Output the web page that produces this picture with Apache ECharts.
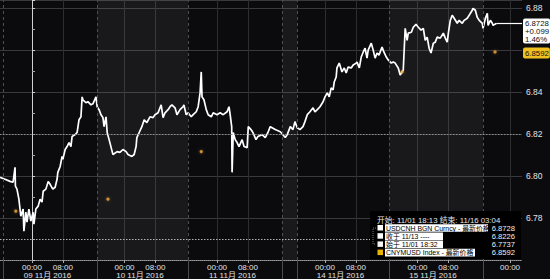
<!DOCTYPE html>
<html><head><meta charset="utf-8">
<script src="https://cdn.jsdelivr.net/npm/echarts@6/dist/echarts.min.js"></script>
<style>html,body{margin:0;padding:0;background:#0b0b0e;}#c{width:550px;height:279px;}</style>
</head><body><div id="c"></div>
<script>
// ---- data (x in trading hours from 09 Nov 00:00, weekend compressed) ----
const cnhHours = [-8.3,-7.0,-5.7,-4.9,-4.4,-4.3,-3.9,-3.4,-2.9,-2.3,
-2.1,-1.6,-1.3,-0.8,-0.3,0.3,0.5,1.0,1.6,2.1,
2.6,2.9,3.6,4.2,4.7,5.4,6.0,6.5,6.7,7.3,
7.8,8.0,8.6,9.1,9.6,10.1,10.4,11.2,11.7,12.2,
12.7,13.0,13.2,14.0,14.5,15.3,15.8,16.6,16.9,17.4,
17.9,18.4,18.7,19.2,19.5,20.0,20.8,21.0,22.1,22.8,
23.6,24.4,24.9,25.9,26.5,27.0,27.2,27.8,28.5,29.1,
29.8,30.6,31.4,31.9,32.7,33.5,34.0,34.5,35.3,35.8,
36.3,37.1,37.6,38.4,39.2,39.4,40.0,40.5,41.3,41.8,
42.6,43.1,43.6,43.9,44.1,44.6,45.2,45.7,46.5,47.0,
48.0,48.8,49.6,50.6,51.1,51.4,51.8,51.9,52.2,52.7,
53.2,53.7,54.5,55.0,55.8,56.1,56.8,57.3,58.1,58.6,
59.7,60.5,61.2,61.8,63.1,64.4,65.7,66.2,67.0,67.7,
68.2,68.8,69.5,70.3,70.8,71.4,72.1,72.9,73.4,74.0,
74.7,75.5,76.0,76.6,77.1,77.6,78.1,78.4,78.9,79.1,
79.7,80.4,81.0,81.5,82.0,82.8,83.3,84.1,84.3,84.9,
85.4,85.9,86.4,86.9,87.2,88.0,88.5,89.0,89.5,90.0,
90.8,91.3,91.9,92.4,93.2,93.7,94.2,95.0,95.5,96.0,
96.3,96.8,97.3,97.6,98.4,98.9,99.6,100.2,100.9,101.5,
102.0,102.5,103.0,103.5,104.1,104.6,105.1,105.9,106.7,107.2,
107.7,108.0,108.5,109.0,109.5,110.3,110.8,111.6,112.1,112.9,
113.4,114.2,114.4,115.0,115.5,116.0,116.8,117.0,117.6,118.1,
118.3,118.9,119.4,119.6,120.4];
const cnhPrices = [6.7994,6.7985,6.7975,6.7971,6.8042,6.7952,6.7938,6.7890,6.7809,6.7843,
6.7737,6.7828,6.7781,6.7843,6.7786,6.7828,6.7771,6.7843,6.7857,6.7890,
6.7876,6.7928,6.7938,6.7975,6.7961,6.7938,6.7947,6.7985,6.8018,6.8046,
6.8094,6.8080,6.8127,6.8141,6.8160,6.8141,6.8189,6.8198,6.8208,6.8269,
6.8283,6.8378,6.8364,6.8350,6.8355,6.8340,6.8345,6.8378,6.8331,6.8317,
6.8293,6.8279,6.8236,6.8283,6.8208,6.8174,6.8117,6.8103,6.8117,6.8113,
6.8127,6.8117,6.8103,6.8094,6.8103,6.8141,6.8184,6.8208,6.8236,6.8269,
6.8255,6.8283,6.8279,6.8293,6.8302,6.8340,6.8279,6.8302,6.8317,6.8331,
6.8340,6.8326,6.8293,6.8317,6.8331,6.8340,6.8293,6.8302,6.8283,6.8293,
6.8307,6.8331,6.8397,6.8497,6.8378,6.8364,6.8317,6.8293,6.8283,6.8302,
6.8293,6.8302,6.8293,6.8307,6.8331,6.8293,6.8236,6.8018,6.8208,6.8174,
6.8160,6.8141,6.8174,6.8141,6.8136,6.8236,6.8222,6.8208,6.8174,6.8189,
6.8198,6.8184,6.8208,6.8236,6.8222,6.8212,6.8184,6.8198,6.8236,6.8222,
6.8260,6.8231,6.8222,6.8236,6.8260,6.8293,6.8307,6.8326,6.8307,6.8317,
6.8331,6.8355,6.8378,6.8397,6.8378,6.8421,6.8411,6.8449,6.8473,6.8516,
6.8539,6.8497,6.8516,6.8492,6.8520,6.8516,6.8530,6.8539,6.8544,6.8516,
6.8568,6.8591,6.8610,6.8563,6.8601,6.8634,6.8601,6.8563,6.8587,6.8577,
6.8615,6.8591,6.8568,6.8554,6.8539,6.8544,6.8539,6.8516,6.8482,6.8497,
6.8506,6.8705,6.8648,6.8682,6.8686,6.8710,6.8724,6.8710,6.8696,6.8705,
6.8648,6.8663,6.8610,6.8587,6.8634,6.8639,6.8663,6.8658,6.8682,6.8658,
6.8639,6.8682,6.8743,6.8767,6.8753,6.8729,6.8743,6.8729,6.8743,6.8753,
6.8767,6.8791,6.8800,6.8791,6.8757,6.8743,6.8729,6.8705,6.8753,6.8776,
6.8719,6.8743,6.8729,6.8719,6.8728];
const fixHours = [-4.2, 19.7, 43.9, 96.0, 120.1];
const fixPrices = [6.7833, 6.7890, 6.8117, 6.8497, 6.8592];

const timeTickHours = [0, 8, 24, 32, 48, 56, 76, 84, 100, 108, 124];
const timeTickLabels = ['00:00','08:00','00:00','08:00','00:00','08:00','00:00','08:00','00:00','08:00','00:00'];
const dateHours = [4, 28, 52, 80, 104];
const dateLabels = ['09 11月 2016','10 11月 2016','11 11月 2016','14 11月 2016','15 11月 2016'];
const sessionBreakHours = [-7.5, 16.9, 40.5, 64.9, 68.8, 92.6, 117.0];
const shadedStarts = [16.9, 64.9, 92.6];
const shadedEnds = [40.5, 68.8, 117.0];

const lastPrice = 6.8728, netChange = '+0.099', pctChange = '1.46%';
const prevClose = 6.8226, periodLow = 6.7737, lastFix = 6.8592;
const headerText = '开始: 11/01 18:13 结束: 11/16 03:04';
const legendLabels = ['USDCNH BGN Curncy - 最新价格', '收于 11/13 ----', '始于 11/01 18:32', 'CNYMUSD Index - 最新价格'];
const legendValues = ['6.8728', '6.8226', '6.7737', '6.8592'];
const legendColors = ['#ffffff', '#ffffff', '#f4f4f4', '#e8b400'];

const xMin = -8.3, xMax = 127.1, yMin = 6.76, yMax = 6.884;

const FONT = '"Liberation Sans", "Noto Sans CJK SC", sans-serif';
const chart = echarts.init(document.getElementById('c'), null, {renderer: 'svg'});

// legend panel layout (decoration only)
const rowY = [228, 236.2, 244.4, 252.6];
const highlightEnds = [488, 443, 443, 475];
const legendGraphics = [
  {type:'rect', z:100, shape:{x:370, y:211, width:151, height:48}, style:{fill:'#000'}},
  {type:'text', z:101, x:377, y:220, style:{text:headerText, fill:'#e4e4e4', font:'7.8px ' + FONT, verticalAlign:'middle'}},
  {type:'polyline', z:101, shape:{points:[[376,228],[373,228],[373,244],[376,244]]}, style:{stroke:'#777', lineWidth:1, lineDash:[1,1], fill:null}}
];
legendLabels.forEach((lab, i) => {
  legendGraphics.push({type:'rect', z:101, shape:{x:377.5, y:rowY[i]-3, width:5.5, height:5.5}, style:{fill:legendColors[i]}});
  legendGraphics.push({type:'rect', z:101, shape:{x:385, y:rowY[i]-3.8, width:highlightEnds[i]-385, height:7.6}, style:{fill:'#fff'}});
  legendGraphics.push({type:'text', z:102, x:386, y:rowY[i], style:{text:lab, fill:'#000', font:'6.9px ' + FONT, verticalAlign:'middle'}});
  legendGraphics.push({type:'text', z:103, x:515, y:rowY[i], style:{text:legendValues[i], fill:'#f0f0f0', font:'7.6px ' + FONT, align:'right', verticalAlign:'middle'}});
});

chart.setOption({
  animation: false,
  backgroundColor: '#0b0b0e',
  grid: {left: 0, right: 28, top: 0, bottom: 19, containLabel: false},
  xAxis: [{
    type: 'value', min: xMin, max: xMax, position: 'bottom',
    axisLine: {show: true, lineStyle: {color: '#9a9a9a', type: 'dotted'}},
    axisTick: {show: true, customValues: timeTickHours, length: 3, lineStyle: {color: '#aaa'}},
    axisLabel: {customValues: timeTickHours, color: '#e2e2e2', fontSize: 8, fontFamily: FONT, margin: 3,
      formatter: v => timeTickLabels[timeTickHours.indexOf(v)] || ''},
    splitLine: {show: true, lineStyle: {color: '#2c2c31', width: 1}}
  }, {
    type: 'value', min: xMin, max: xMax, position: 'bottom',
    axisLine: {show: false},
    axisTick: {show: true, customValues: sessionBreakHours, length: 19, inside: false, lineStyle: {color: '#4a4a4f'}},
    axisLabel: {customValues: dateHours, color: '#e2e2e2', fontSize: 8, fontFamily: FONT, margin: 11,
      formatter: v => dateLabels[dateHours.indexOf(v)] || ''},
    splitLine: {show: false}
  }],
  yAxis: {
    type: 'value', position: 'right', min: yMin, max: yMax, interval: 0.02,
    axisLine: {show: true, lineStyle: {color: '#d0d0d0'}},
    axisTick: {show: true, length: 3, lineStyle: {color: '#d0d0d0'}},
    minorTick: {show: true, splitNumber: 2, length: 3, lineStyle: {color: '#aaa'}},
    axisLabel: {color: '#e2e2e2', fontSize: 8.5, fontFamily: FONT, margin: 4, showMinLabel: false, showMaxLabel: false,
      // the label hidden under the CNYMUSD price tag is not drawn
      formatter: v => Math.abs(v - lastFix) < 0.005 ? '' : v.toFixed(2)},
    splitLine: {show: true, lineStyle: {color: '#38383d', width: 1}}
  },
  graphic: legendGraphics,
  series: [{
    name: 'sessions', type: 'line', data: [], z: 1, silent: true,
    markArea: {silent: true, itemStyle: {color: 'rgba(255,255,255,0.06)'},
      data: shadedStarts.map((s, i) => [{xAxis: s}, {xAxis: shadedEnds[i]}])},
    markLine: {silent: true, symbol: 'none', label: {show: false},
      data: sessionBreakHours.map(h => ({xAxis: h, lineStyle: {type: [3, 3], color: '#4e4e54', width: 1}}))
        .concat([
          {yAxis: prevClose, lineStyle: {type: [1.5, 1.5], color: '#8c8c8c', width: 1}},
          {yAxis: periodLow, lineStyle: {type: [1.5, 1.5], color: '#b4b4b4', width: 1}}
        ])}
  }, {
    name: 'USDCNH BGN Curncy', type: 'line', z: 3, showSymbol: false, symbol: 'none',
    data: cnhHours.map((h, i) => [h, cnhPrices[i]]),
    lineStyle: {color: '#ffffff', width: 1.7},
    markLine: {silent: true, symbol: 'none', label: {show: false},
      data: [[{coord: [cnhHours[cnhHours.length - 1], lastPrice], lineStyle: {color: '#fff', width: 1.2, type: 'solid'}},
              {coord: [xMax, lastPrice]}]]},
    markPoint: {silent: true, symbol: 'circle', symbolSize: 0,
      data: [{coord: [xMax, lastPrice],
        label: {show: true, position: 'right', distance: 1, verticalAlign: 'top', offset: [0, -5],
          formatter: [String(lastPrice), netChange, pctChange].join('\n'),
          backgroundColor: '#ffffff', borderRadius: 2, padding: [1, 1, 0, 2], lineHeight: 8,
          color: '#111', fontSize: 7.8, fontFamily: FONT}}]}
  }, {
    name: 'CNYMUSD Index', type: 'scatter', z: 4, symbolSize: 3.2,
    data: fixHours.map((h, i) => [h, fixPrices[i]]),
    itemStyle: {color: '#f2a93b', shadowBlur: 3, shadowColor: 'rgba(242,169,59,0.6)'},
    markPoint: {silent: true, symbol: 'circle', symbolSize: 0,
      data: [{coord: [xMax, lastFix],
        label: {show: true, position: 'right', distance: 1, offset: [0, 1],
          formatter: String(lastFix), backgroundColor: '#f0c020', borderRadius: 2, padding: [2, 1, 1, 2],
          color: '#111', fontSize: 7.8, fontFamily: FONT}}]}
  }]
});
</script>
</body></html>
